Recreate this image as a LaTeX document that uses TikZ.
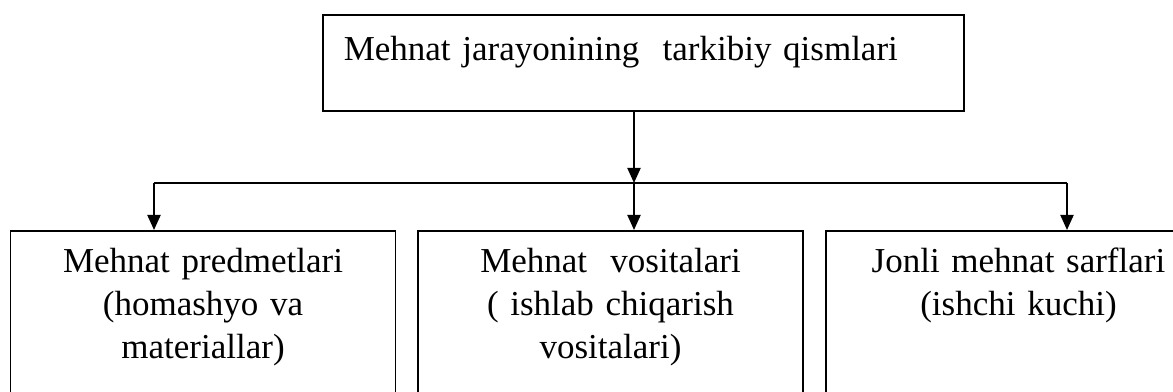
\documentclass[tikz,border=0pt]{standalone}
\usepackage{fontspec}
\setmainfont{Liberation Serif}
\usetikzlibrary{arrows.meta}
\tikzset{part/.style={draw=black, line width=1.6pt, anchor=north, inner sep=0pt, text width=385pt, align=center, text height=42pt, text depth=200pt, font=\fontsize{35}{43}\selectfont},
  arr/.style={line width=2pt, -{Triangle[length=15pt,width=13pt]}}}
\begin{document}
\begin{tikzpicture}[x=1pt,y=1pt]
\useasboundingbox (0,0) rectangle (1173,391);
\clip (0,0) rectangle (1173,391);
\node (head) at (322,377) [draw=black, line width=1.6pt, anchor=north west, inner xsep=21pt, inner ysep=0pt, text width=599pt, align=left, text height=46pt, text depth=50pt, font=\fontsize{35}{43}\selectfont] {Mehnat jarayonining~ tarkibiy qismlari};
\node (obj) at (203,161) [part] {Mehnat predmetlari\\(homashyo va\\materiallar)};
\node (means) at (610.5,161) [part] {Mehnat~ vositalari\\( ishlab chiqarish\\vositalari)};
\node (labour) at (1018.5,161) [part] {Jonli mehnat sarflari\\(ishchi kuchi)};
\coordinate (split) at (634,208);
\coordinate (busL) at (154,208);
\coordinate (busR) at (1067,208);
\draw[line width=2pt] (busL) -- (busR);
\draw[arr] (split |- head.south) -- (split);
\draw[arr] (busL) -- (busL |- obj.north);
\draw[arr] (split) -- (split |- means.north);
\draw[arr] (busR) -- (busR |- labour.north);
\end{tikzpicture}
\end{document}
